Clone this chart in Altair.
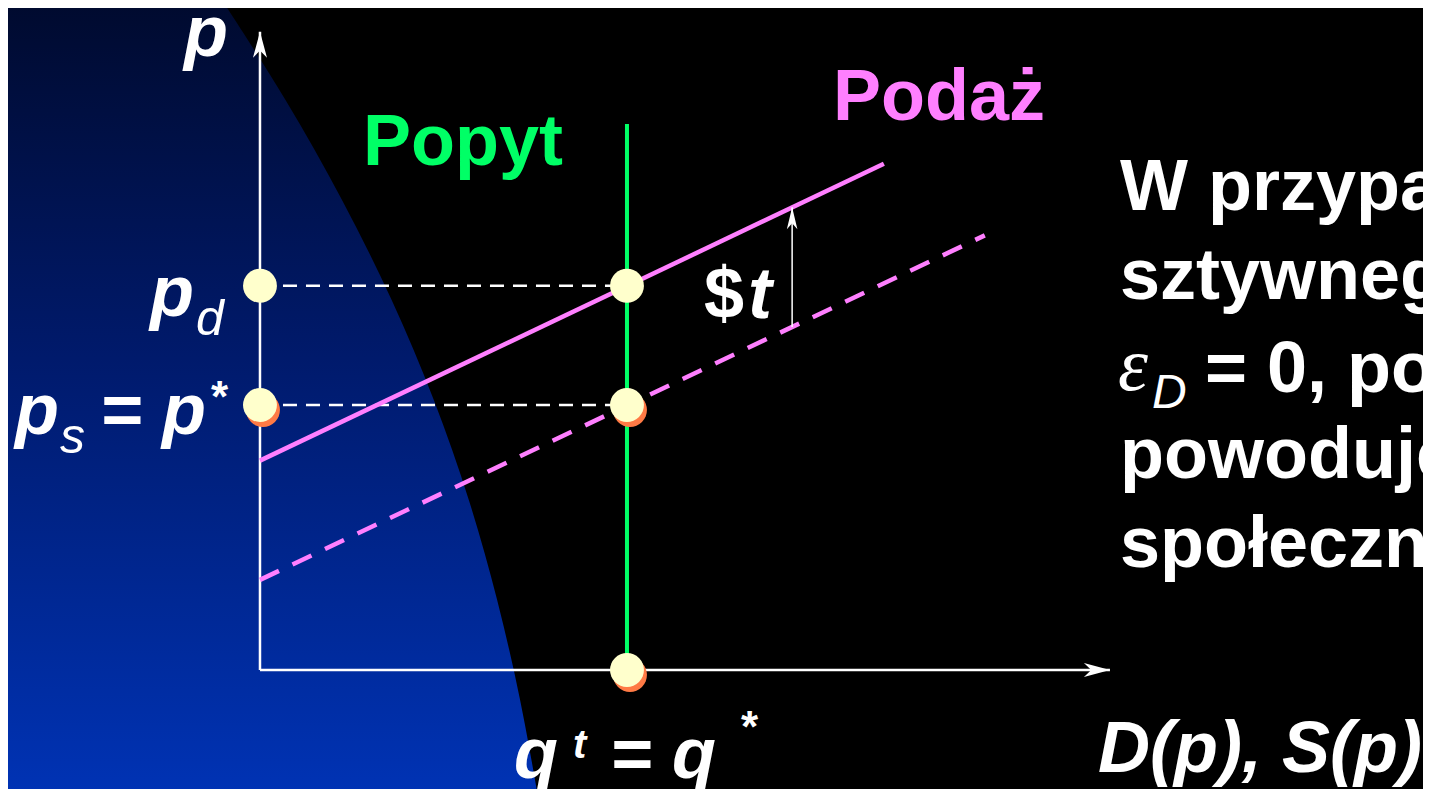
import altair as alt
import pandas as pd

# ---------------- model values (quantity q, price p) ----------------
supply_q = [0.0, 19.75]          # supply before tax (dashed)
supply_p = [3.4, 16.4]
supply_tax_q = [0.0, 17.0]       # supply shifted up by the tax $t (solid)
supply_tax_p = [7.9, 19.1]
demand_q = [10.0, 10.0]          # perfectly inelastic demand
demand_p = [0.0, 20.6]

point_q = [0.0, 0.0, 10.0, 10.0, 10.0]
point_p = [14.5, 10.0, 14.5, 10.0, 0.0]
point_shadow = [False, True, False, True, True]

guide_q0 = [0.0, 0.0]
guide_q1 = [10.0, 10.0]
guide_p = [14.5, 10.0]

tax_arrow_q = [14.5]
tax_arrow_p0 = [12.94]
tax_arrow_p1 = [17.46]

axis_q_max = 23.16
axis_p_max = 24.08

# decorative blue backdrop boundary (q, p)
bg_q = [-1.035, 0.736, 2.262, 3.624, 4.768, 5.722, 6.485, 7.112, 7.575]
bg_p = [25.28, 21.51, 17.74, 13.96, 10.19, 6.42, 2.64, -1.13, -4.79]
bg_left = -7.5

# paragraph on the right (clipped by the slide edge)
para_lines = ["W przypadku doskonale", "sztywnego popytu,", "", "powoduje straty", "społecznej."]
para_eps_rest = "= 0, podatek nie"

# ---------------- layout ----------------
W, H = 1415, 781
M = 8
xs = alt.Scale(domain=[-6.866, 31.69], nice=False, zero=False)
ys = alt.Scale(domain=[-4.49, 24.98], nice=False, zero=False)

WHITE = "#FFFFFF"
PINK = "#FF7FFF"
GREEN = "#00FF66"
DOT = "#FFFFCC"
DOT_SHADOW = "#FF7A45"
SANS = "Liberation Sans"


def X(f):
    return alt.X(f, type="quantitative", scale=xs, axis=None)


def Y(f):
    return alt.Y(f, type="quantitative", scale=ys, axis=None)


bg_df = pd.DataFrame({"q": bg_q, "p": bg_p, "q0": [bg_left] * len(bg_q)})
bg = alt.Chart(bg_df).mark_area(
    orient="horizontal",
    interpolate="basis",
    clip=False,
    color=alt.Gradient(
        gradient="linear",
        stops=[
            alt.GradientStop(color="#000a2e", offset=0),
            alt.GradientStop(color="#001a6c", offset=0.45),
            alt.GradientStop(color="#0033b5", offset=1),
        ],
        x1=0, x2=0, y1=0, y2=1,
    ),
).encode(y=Y("p"), x=X("q"), x2="q0")

axes_df = pd.DataFrame({"q": [0.0, 0.0], "q2": [0.0, axis_q_max],
                        "p": [0.0, 0.0], "p2": [axis_p_max, 0.0]})
axes = alt.Chart(axes_df).mark_rule(color=WHITE, strokeWidth=2.5).encode(
    x=X("q"), x2="q2", y=Y("p"), y2="p2")

ARROW = "M0,0 L-0.27,1 L0,0.72 L0.27,1 Z"
heads_df = pd.DataFrame({"q": [0.0, axis_q_max], "p": [axis_p_max, 0.0], "a": [0, 90]})
heads = alt.Chart(heads_df).mark_point(
    shape=ARROW, filled=True, size=2704, color=WHITE, opacity=1, strokeWidth=0
).encode(x=X("q"), y=Y("p"), angle=alt.Angle("a:Q", scale=None))

guides = alt.Chart(pd.DataFrame({"q0": guide_q0, "q1": guide_q1, "p": guide_p})).mark_rule(
    color=WHITE, strokeWidth=2.5, strokeDash=[14, 9]
).encode(x=X("q0"), x2="q1", y=Y("p"))

supply = alt.Chart(pd.DataFrame({"q": supply_q, "p": supply_p})).mark_line(
    color=PINK, strokeWidth=4.5, strokeDash=[21, 15]).encode(x=X("q"), y=Y("p"))
supply_tax = alt.Chart(pd.DataFrame({"q": supply_tax_q, "p": supply_tax_p})).mark_line(
    color=PINK, strokeWidth=4.5).encode(x=X("q"), y=Y("p"))
demand = alt.Chart(pd.DataFrame({"q": demand_q, "p": demand_p})).mark_line(
    color=GREEN, strokeWidth=4).encode(x=X("q"), y=Y("p"))

tax_df = pd.DataFrame({"q": tax_arrow_q, "p0": tax_arrow_p0, "p1": tax_arrow_p1})
tax_rule = alt.Chart(tax_df).mark_rule(color=WHITE, strokeWidth=1.5).encode(
    x=X("q"), y=Y("p0"), y2="p1")
SMALL_ARROW = "M0,0 L-0.24,1 L0,0.72 L0.24,1 Z"
tax_head = alt.Chart(tax_df).mark_point(
    shape=SMALL_ARROW, filled=True, size=1936, color=WHITE, opacity=1, strokeWidth=0
).encode(x=X("q"), y=Y("p1"))

pts_df = pd.DataFrame({"q": point_q, "p": point_p, "s": point_shadow})
shadows = alt.Chart(pts_df).transform_filter("datum.s").mark_circle(
    size=1150, color=DOT_SHADOW, opacity=1, xOffset=3, yOffset=5
).encode(x=X("q"), y=Y("p"))
dots = alt.Chart(pts_df).mark_circle(size=1150, color=DOT, opacity=1).encode(
    x=X("q"), y=Y("p"))


def txt(s, px, py, size, color=WHITE, weight="bold", style="normal", font=SANS, align="left"):
    return alt.Chart(pd.DataFrame({"t": [s]})).mark_text(
        font=font, fontSize=size, fontWeight=weight, fontStyle=style, color=color,
        align=align, baseline="alphabetic",
    ).encode(x=alt.value(px - M), y=alt.value(py - M), text="t:N")


texts = [
    txt("p", 184, 56, 72, style="italic"),
    txt("p", 150, 316, 72, style="italic"),
    txt("d", 196, 335, 50, weight="normal", style="italic"),
    txt("p", 15, 434, 72, style="italic"),
    txt("s", 60, 453, 50, weight="normal", style="italic"),
    txt("= p", 100, 434, 72, style="italic"),
    txt("*", 211, 412, 44),
    txt("q", 514, 778, 72, style="italic"),
    txt("t", 573, 758, 40, weight="bold", style="italic"),
    txt("= q", 610, 778, 72, style="italic"),
    txt("*", 741, 742, 44),
    txt("D(p), S(p)", 1098, 772, 72, style="italic"),
    txt("Popyt", 363, 165, 72, color=GREEN),
    txt("Podaż", 833, 120, 72, color=PINK),
    txt("$", 704, 318, 72),
    txt("t", 748, 318, 72, style="italic"),
    txt("ε", 1118, 390, 76, weight="normal", style="italic", font="Liberation Serif"),
    txt("D", 1152, 408, 48, weight="normal", style="italic"),
    txt(para_eps_rest, 1205, 392, 72),
]
para_base = [210, 299, 388, 478, 567]
for line, b in zip(para_lines, para_base):
    if line:
        texts.append(txt(line, 1120, b, 72))

chart = alt.layer(
    bg, axes, heads, guides, supply, supply_tax, demand, tax_rule, tax_head,
    shadows, dots, *texts
).properties(
    width=W, height=H, background="#000000", padding=0,
    autosize=alt.AutoSizeParams(type="none"),
).configure_view(stroke=None)

chart.save("out.html", embed_options={"renderer": "svg", "actions": False})
